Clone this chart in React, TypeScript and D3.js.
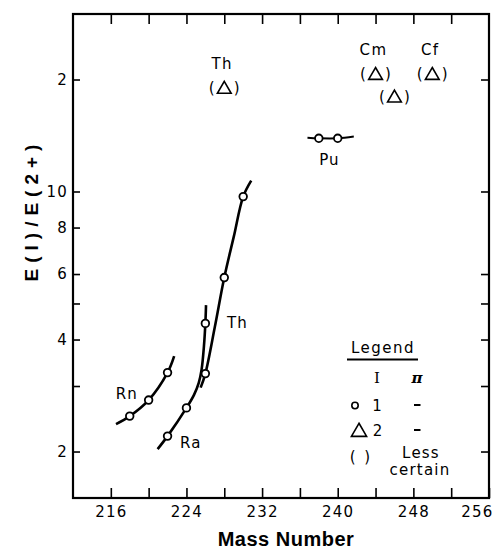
import { useEffect, useRef } from "react";
import * as d3 from "d3";

const width = 494;
const height = 550;

// measured E(1-)/E(2+) ratios, circles
const rnMass = [218, 220, 222];
const rnRatio = [2.49, 2.75, 3.26];
const raMass = [222, 224, 226];
const raRatio = [2.2, 2.62, 4.42];
const thMass = [226, 228, 230];
const thRatio = [3.24, 5.87, 9.69];
const puMass = [238, 240];
const puRatio = [13.9, 13.9];

// I = 2 cases (less certain), triangles in parentheses
const triMass = [228, 244, 246, 250];
const triRatio = [19.0, 20.7, 18.0, 20.7];
const triNames = ["Th", "Cm", "", "Cf"];

// smooth curves drawn through the points
const rnTrace: [number, number][] = [[216.55, 2.37], [218, 2.49], [220, 2.75], [222, 3.26], [222.7, 3.61]];
const raTrace: [number, number][] = [
  [220.95, 2.03], [222, 2.2], [224, 2.62], [224.8, 2.84], [225.3, 3.06],
  [225.6, 3.32], [225.85, 3.84], [226, 4.42], [226.07, 4.95],
];
const thTrace: [number, number][] = [[225.5, 2.97], [226, 3.24], [227, 4.32], [228, 5.87], [229, 7.55], [230, 9.69], [230.85, 10.7]];
const puTrace: [number, number][] = [[236.8, 13.95], [238, 13.9], [240, 13.9], [241.7, 14.05]];

// series labels (anchor in data units)
const seriesLabels = ["Rn", "Ra", "Th", "Pu"];
const labelMass = [217.68, 224.45, 229.38, 239.11];
const labelRatio = [2.86, 2.11, 4.42, 12.15];

const massTicks = [216, 220, 224, 228, 232, 236, 240, 244, 248, 252];
const massLabels = [216, 224, 232, 240, 248, 256];
const ratioTicksLeft = [2, 3, 4, 5, 6, 8, 10, 20];
const ratioTicksRight = [2, 3, 4, 5, 6, 10, 20];
const ratioLabelValues = [2, 4, 6, 8, 10, 20];
const ratioLabelText = ["2", "4", "6", "8", "10", "2"];

export default function App() {
  const svgRef = useRef<SVGSVGElement | null>(null);

  useEffect(() => {
    if (!svgRef.current) return;
    const svg = d3.select(svgRef.current);
    svg.selectAll("*").remove();

    const left = 73, right = 489, top = 14, bottom = 498;
    const font = "'DejaVu Sans', sans-serif";

    const x = d3.scaleLinear().domain([212, 256]).range([left, right]);
    const y = d3.scaleLog().domain([1.5, 30]).range([bottom, top]);

    const styleAxis = (g: d3.Selection<SVGGElement, unknown, null, undefined>) => {
      g.select(".domain").remove();
      g.selectAll(".tick line").attr("stroke", "#000").attr("stroke-width", 1.6);
      g.selectAll(".tick text")
        .attr("fill", "#000")
        .attr("font-family", font)
        .attr("font-size", 15)
        .attr("letter-spacing", 1.2);
    };

    // axes
    const xAxis = svg.append("g")
      .attr("transform", `translate(0,${bottom})`)
      .call(d3.axisBottom(x).tickValues([...massTicks, 256]).tickSizeInner(-10).tickSizeOuter(0).tickPadding(8)
        .tickFormat((d) => (massLabels.includes(+d) ? String(d) : "")))
      .call(styleAxis);
    // last label sits against the right edge of the frame
    xAxis.selectAll<SVGTextElement, number>(".tick text")
      .filter((d) => d === 256)
      .attr("text-anchor", "end")
      .attr("x", 4);

    svg.append("g")
      .attr("transform", `translate(0,${top})`)
      .call(d3.axisTop(x).tickValues(massTicks).tickSizeInner(-10).tickSizeOuter(0).tickFormat(() => ""))
      .call(styleAxis);

    svg.append("g")
      .attr("transform", `translate(${left},0)`)
      .call(d3.axisLeft(y).tickValues(ratioTicksLeft).tickSizeInner(-7).tickSizeOuter(0).tickPadding(5)
        .tickFormat((d) => {
          const i = ratioLabelValues.indexOf(+d);
          return i >= 0 ? ratioLabelText[i] : "";
        }))
      .call(styleAxis);

    svg.append("g")
      .attr("transform", `translate(${right},0)`)
      .call(d3.axisRight(y).tickValues(ratioTicksRight).tickSizeInner(-8).tickSizeOuter(0).tickFormat(() => ""))
      .call(styleAxis);

    // frame
    svg.append("rect")
      .attr("x", left).attr("y", top)
      .attr("width", right - left).attr("height", bottom - top)
      .attr("fill", "none").attr("stroke", "#000").attr("stroke-width", 2.2);

    // axis titles
    svg.append("text")
      .attr("x", 286).attr("y", 546)
      .attr("text-anchor", "middle")
      .attr("font-family", "'Liberation Sans', Arial, sans-serif")
      .attr("font-weight", "bold").attr("font-size", 20)
      .attr("letter-spacing", 0.5)
      .text("Mass Number");

    svg.append("text")
      .attr("transform", "translate(38,210) rotate(-90)")
      .attr("text-anchor", "middle")
      .attr("font-family", "'Liberation Sans', Arial, sans-serif")
      .attr("font-weight", "bold").attr("font-size", 19)
      .attr("letter-spacing", 6)
      .text("E(I)/E(2+)");

    // curves
    const line = d3.line<[number, number]>()
      .x((d) => x(d[0]))
      .y((d) => y(d[1]))
      .curve(d3.curveCatmullRom.alpha(0.5));

    [rnTrace, raTrace, thTrace].forEach((t) => {
      svg.append("path")
        .attr("d", line(t))
        .attr("fill", "none").attr("stroke", "#000").attr("stroke-width", 2.6);
    });
    svg.append("path")
      .attr("d", line(puTrace))
      .attr("fill", "none").attr("stroke", "#000").attr("stroke-width", 2);

    // circles
    const pts: [number, number][] = [
      ...rnMass.map((m, i) => [m, rnRatio[i]] as [number, number]),
      ...raMass.map((m, i) => [m, raRatio[i]] as [number, number]),
      ...thMass.map((m, i) => [m, thRatio[i]] as [number, number]),
      ...puMass.map((m, i) => [m, puRatio[i]] as [number, number]),
    ];
    svg.append("g").selectAll("circle")
      .data(pts)
      .join("circle")
      .attr("cx", (d) => x(d[0]))
      .attr("cy", (d) => y(d[1]))
      .attr("r", 3.8)
      .attr("fill", "#fff").attr("stroke", "#000").attr("stroke-width", 1.8);

    // series labels
    svg.append("g").selectAll("text")
      .data(seriesLabels)
      .join("text")
      .attr("x", (_, i) => x(labelMass[i]))
      .attr("y", (_, i) => y(labelRatio[i]))
      .attr("text-anchor", "middle")
      .attr("dominant-baseline", "central")
      .attr("font-family", font).attr("font-size", 15)
      .attr("letter-spacing", 1)
      .text((d) => d);

    // triangles in parentheses
    const tri = d3.symbol().type(d3.symbolTriangle).size(82);
    const tg = svg.append("g").selectAll("g")
      .data(triMass.map((m, i) => ({ m, r: triRatio[i], name: triNames[i] })))
      .join("g")
      .attr("transform", (d) => `translate(${x(d.m)},${y(d.r)})`);
    tg.append("path")
      .attr("d", tri() as string)
      .attr("transform", "translate(0,1.5)")
      .attr("fill", "none").attr("stroke", "#000").attr("stroke-width", 1.6);
    tg.append("text").attr("x", -12.5).attr("y", 0).text("(");
    tg.append("text").attr("x", 12.5).attr("y", 0).text(")");
    tg.append("text").attr("x", -2).attr("y", -24).attr("letter-spacing", 1.5).text((d) => d.name);
    tg.selectAll("text")
      .attr("text-anchor", "middle")
      .attr("dominant-baseline", "central")
      .attr("font-family", font).attr("font-size", 15);

    // legend
    const lg = svg.append("g").attr("font-family", font).attr("font-size", 15);
    lg.append("text").attr("x", 383).attr("y", 353).attr("text-anchor", "middle")
      .attr("letter-spacing", 1.5).text("Legend");
    lg.append("line").attr("x1", 347).attr("x2", 418).attr("y1", 359.5).attr("y2", 359.5)
      .attr("stroke", "#000").attr("stroke-width", 2);
    lg.append("text").attr("x", 377).attr("y", 378).attr("text-anchor", "middle")
      .attr("dominant-baseline", "central").attr("font-family", "'DejaVu Serif', serif").text("I");
    lg.append("text").attr("x", 417).attr("y", 378).attr("text-anchor", "middle")
      .attr("dominant-baseline", "central").attr("font-family", "'DejaVu Serif', serif")
      .attr("font-style", "italic").attr("font-weight", "bold").text("π");
    lg.append("circle").attr("cx", 355).attr("cy", 405.5).attr("r", 3.2)
      .attr("fill", "#fff").attr("stroke", "#000").attr("stroke-width", 1.6);
    lg.append("text").attr("x", 377).attr("y", 405.5).attr("text-anchor", "middle")
      .attr("dominant-baseline", "central").text("1");
    lg.append("path").attr("d", d3.symbol().type(d3.symbolTriangle).size(100)() as string)
      .attr("transform", "translate(359,432)")
      .attr("fill", "none").attr("stroke", "#000").attr("stroke-width", 1.6);
    lg.append("text").attr("x", 377.5).attr("y", 431).attr("text-anchor", "middle")
      .attr("dominant-baseline", "central").text("2");
    // parity column: short dashes
    lg.selectAll("line.dash")
      .data([405, 430])
      .join("line")
      .attr("class", "dash")
      .attr("x1", 414).attr("x2", 420.5)
      .attr("y1", (d) => d).attr("y2", (d) => d)
      .attr("stroke", "#000").attr("stroke-width", 2);
    lg.append("text").attr("x", 361).attr("y", 457).attr("text-anchor", "middle")
      .attr("dominant-baseline", "central").attr("letter-spacing", 2).text("( )");
    lg.append("text").attr("x", 421).attr("y", 458).attr("text-anchor", "middle")
      .attr("letter-spacing", 1.2).text("Less");
    lg.append("text").attr("x", 420).attr("y", 475).attr("text-anchor", "middle")
      .attr("letter-spacing", 1.2).text("certain");
  }, []);

  return (
    <svg
      ref={svgRef}
      width={width}
      height={height}
      style={{ position: "absolute", left: 0, top: 0, background: "#fff" }}
    />
  );
}
